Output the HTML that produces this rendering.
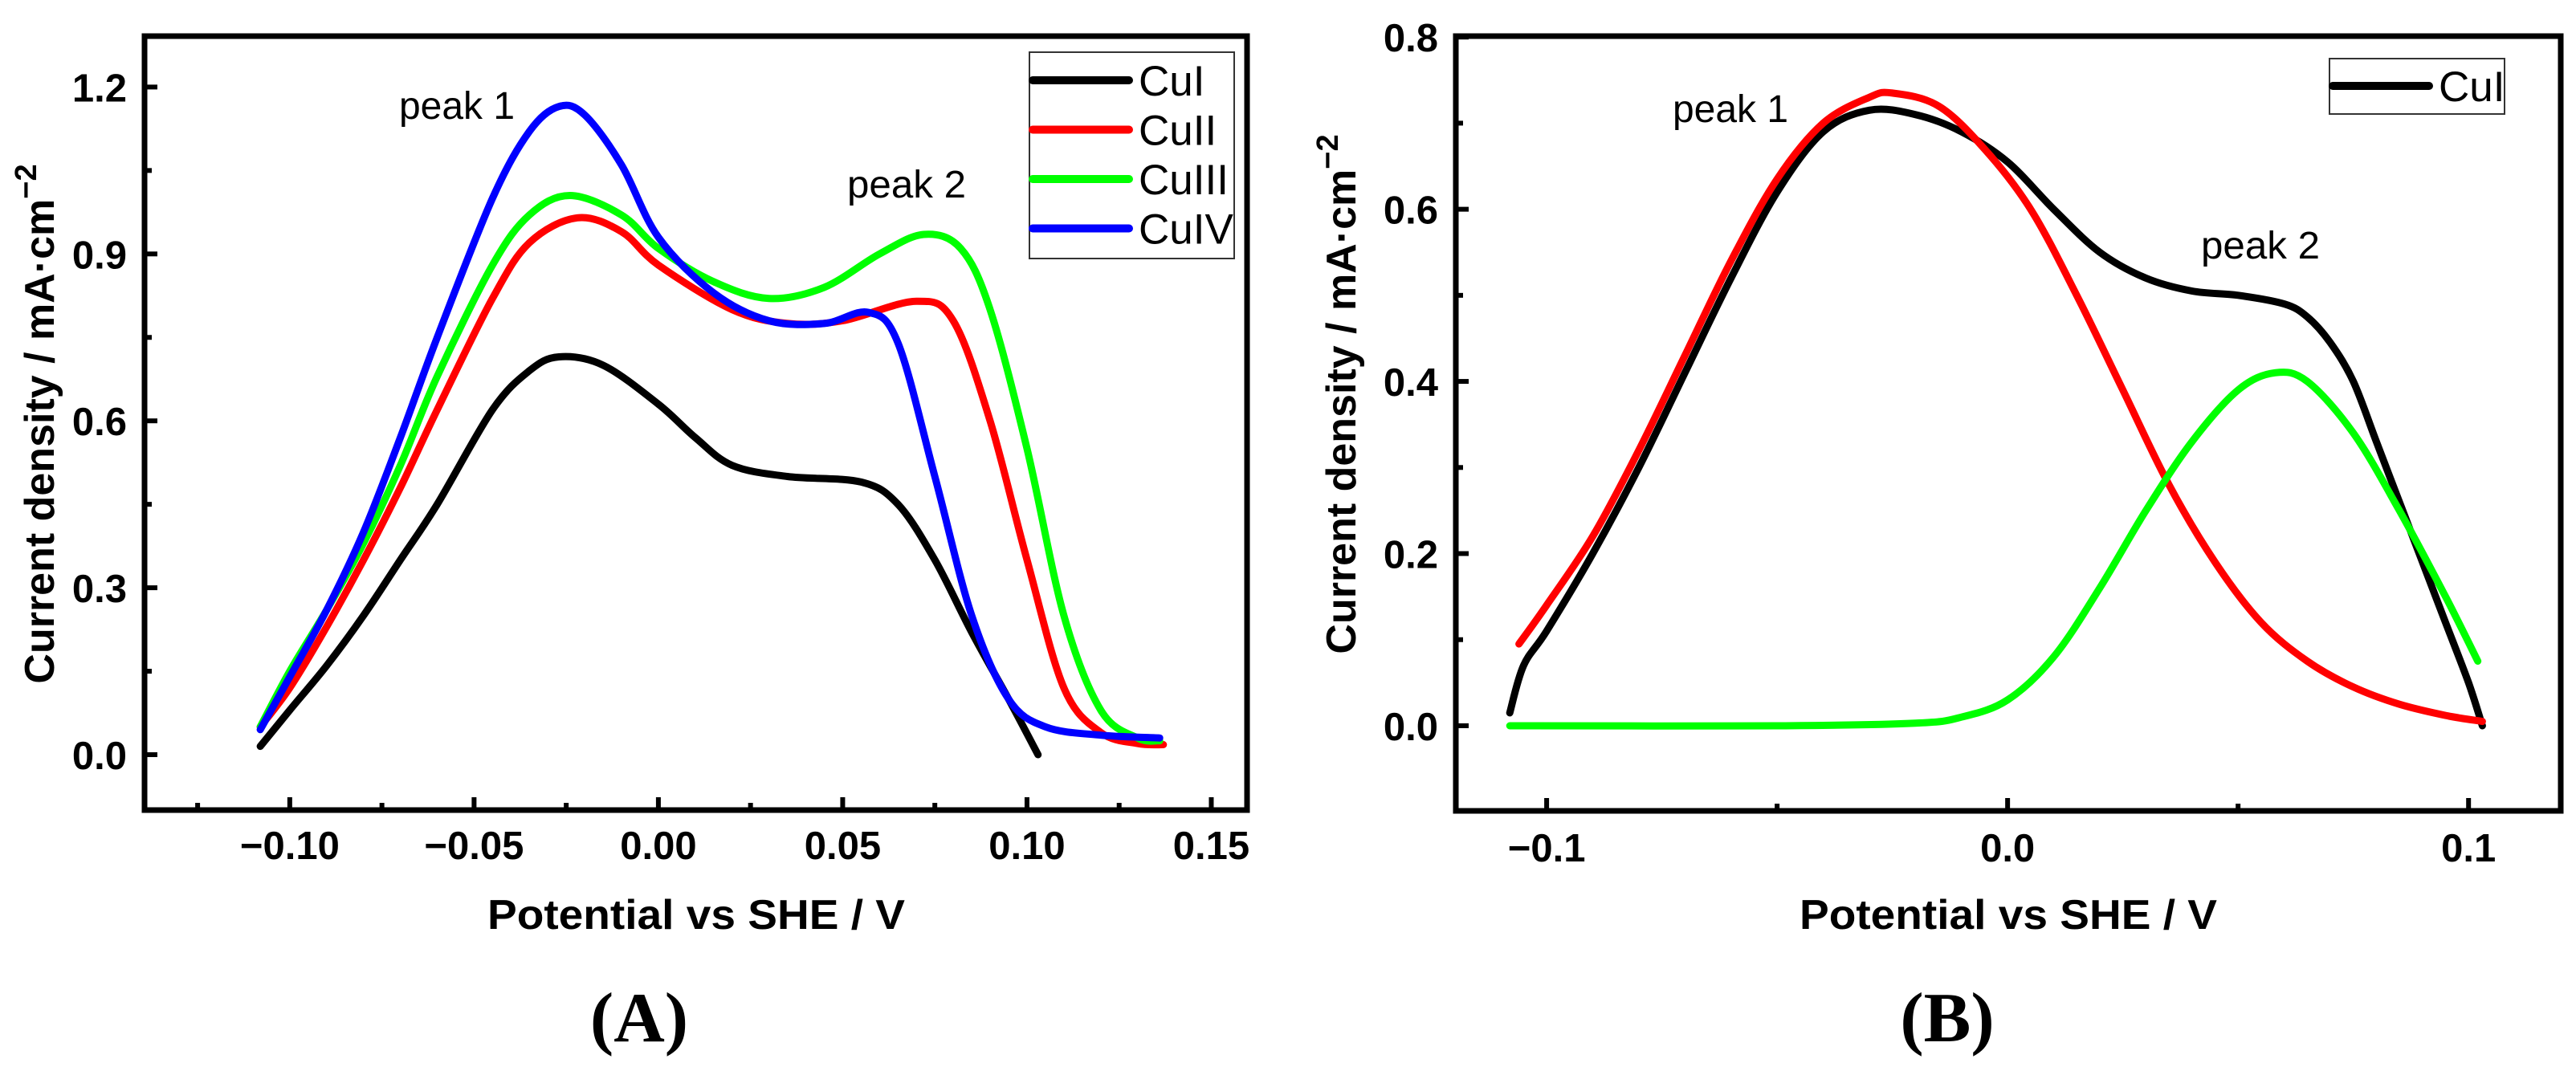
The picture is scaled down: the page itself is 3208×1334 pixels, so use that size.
<!DOCTYPE html>
<html><head><meta charset="utf-8">
<style>
html,body{margin:0;padding:0;background:#fff;}
svg{display:block;}
text{font-family:"Liberation Sans",Arial,sans-serif;}
</style></head>
<body>
<svg id="fig" width="3208" height="1334" viewBox="0 0 3208 1334" xmlns="http://www.w3.org/2000/svg">
<g id="panelA"></g>
<g id="panelB"></g>
<text x="796" y="1297" text-anchor="middle" font-size="88" font-weight="bold" style="font-family:'Liberation Serif',serif">(A)</text>
<text x="2425" y="1297" text-anchor="middle" font-size="88" font-weight="bold" style="font-family:'Liberation Serif',serif">(B)</text>
</svg>
<script>
// ---- Panel A data ----
const seriesNamesA = ["CuI","CuII","CuIII","CuIV"];
const colorsA = ["#000000","#ff0000","#00ff00","#0000ff"];
const cuI_x = [-0.108,-0.1,-0.09,-0.08,-0.07,-0.06,-0.045,-0.035,-0.027,-0.015,0,0.01,0.02,0.035,0.055,0.065,0.075,0.085,0.095,0.103];
const cuI_y = [0.015,0.08,0.16,0.25,0.35,0.45,0.62,0.69,0.715,0.70,0.63,0.57,0.52,0.50,0.49,0.45,0.35,0.22,0.10,0.0];
const cuII_x = [-0.108,-0.1,-0.09,-0.08,-0.07,-0.06,-0.045,-0.035,-0.022,-0.01,0,0.02,0.035,0.05,0.07,0.08,0.09,0.1,0.11,0.12,0.13,0.137];
const cuII_y = [0.05,0.12,0.23,0.35,0.48,0.62,0.82,0.92,0.965,0.94,0.88,0.80,0.775,0.78,0.815,0.78,0.60,0.35,0.12,0.04,0.02,0.018];
const cuIII_x = [-0.108,-0.1,-0.09,-0.08,-0.07,-0.06,-0.045,-0.035,-0.024,-0.01,0,0.015,0.03,0.045,0.06,0.072,0.082,0.09,0.1,0.11,0.12,0.13,0.136];
const cuIII_y = [0.05,0.15,0.26,0.38,0.52,0.68,0.88,0.97,1.005,0.97,0.91,0.85,0.82,0.84,0.90,0.935,0.91,0.80,0.55,0.25,0.08,0.03,0.025];
const cuIV_x = [-0.108,-0.1,-0.09,-0.08,-0.07,-0.06,-0.045,-0.035,-0.027,-0.02,-0.01,0,0.015,0.03,0.045,0.057,0.065,0.075,0.085,0.095,0.105,0.12,0.136];
const cuIV_y = [0.045,0.14,0.26,0.40,0.57,0.75,1.0,1.12,1.165,1.15,1.06,0.93,0.83,0.78,0.775,0.795,0.74,0.50,0.25,0.10,0.05,0.035,0.03];
const xTicksA = [-0.10,-0.05,0.00,0.05,0.10,0.15];
const xTickLabelsA = ["\u22120.10","\u22120.05","0.00","0.05","0.10","0.15"];
const yTicksA = [0.0,0.3,0.6,0.9,1.2];
const yTickLabelsA = ["0.0","0.3","0.6","0.9","1.2"];

// ---- Panel B data ----
const seriesNamesB = ["CuI","peak-1-fit","peak-2-fit"];
const colorsB = ["#000000","#ff0000","#00ff00"];
const bBlack_x = [-0.108,-0.105,-0.1,-0.09,-0.08,-0.07,-0.06,-0.05,-0.04,-0.03,-0.02,-0.01,0,0.01,0.02,0.03,0.04,0.05,0.06,0.065,0.07,0.075,0.08,0.085,0.09,0.095,0.1,0.103];
const bBlack_y = [0.015,0.07,0.11,0.20,0.30,0.41,0.52,0.62,0.69,0.715,0.71,0.69,0.655,0.60,0.55,0.52,0.505,0.50,0.49,0.475,0.445,0.40,0.33,0.26,0.19,0.12,0.05,0.0];
const bRed_x = [-0.106,-0.1,-0.09,-0.08,-0.07,-0.06,-0.05,-0.04,-0.03,-0.025,-0.015,-0.005,0.005,0.015,0.025,0.035,0.045,0.055,0.065,0.075,0.085,0.095,0.103];
const bRed_y = [0.095,0.14,0.22,0.32,0.43,0.54,0.635,0.70,0.73,0.735,0.72,0.67,0.60,0.50,0.39,0.28,0.19,0.12,0.075,0.045,0.025,0.012,0.005];
const bGreen_x = [-0.108,-0.05,-0.02,-0.01,0,0.01,0.02,0.03,0.04,0.05,0.058,0.065,0.075,0.085,0.095,0.102];
const bGreen_y = [0,0,0.003,0.01,0.03,0.08,0.16,0.25,0.33,0.39,0.41,0.40,0.34,0.25,0.15,0.075];
const xTicksB = [-0.1,0.0,0.1];
const xTickLabelsB = ["\u22120.1","0.0","0.1"];
const yTicksB = [0.0,0.2,0.4,0.6,0.8];
const yTickLabelsB = ["0.0","0.2","0.4","0.6","0.8"];

const NS = "http://www.w3.org/2000/svg";
function mk(parent, tag, attrs, txt){
  const e = document.createElementNS(NS, tag);
  for (const k in attrs) e.setAttribute(k, attrs[k]);
  if (txt !== undefined) e.textContent = txt;
  parent.appendChild(e);
  return e;
}
function smoothPath(pts){
  let d = "M" + pts[0][0].toFixed(1) + "," + pts[0][1].toFixed(1);
  for (let i = 0; i < pts.length - 1; i++){
    const p0 = pts[Math.max(0,i-1)], p1 = pts[i], p2 = pts[i+1], p3 = pts[Math.min(pts.length-1,i+2)];
    const c1x = p1[0] + (p2[0]-p0[0])/6, c1y = p1[1] + (p2[1]-p0[1])/6;
    const c2x = p2[0] - (p3[0]-p1[0])/6, c2y = p2[1] - (p3[1]-p1[1])/6;
    d += " C" + c1x.toFixed(1)+","+c1y.toFixed(1)+" "+c2x.toFixed(1)+","+c2y.toFixed(1)+" "+p2[0].toFixed(1)+","+p2[1].toFixed(1);
  }
  return d;
}

function drawPanel(g, cfg){
  const sx = v => cfg.L + (v - cfg.xmin) / (cfg.xmax - cfg.xmin) * (cfg.R - cfg.L);
  const sy = v => cfg.B - (v - cfg.ymin) / (cfg.ymax - cfg.ymin) * (cfg.B - cfg.T);
  cfg.series.forEach((s, i) => {
    const pts = s.x.map((xv, j) => [sx(xv), sy(s.y[j])]);
    const p = mk(g, "path", {d: smoothPath(pts), fill: "none", stroke: s.color, "stroke-width": 9, "stroke-linecap": "round", "stroke-linejoin": "round"});
    
    
  });
  const fr = mk(g, "rect", {x: cfg.L, y: cfg.T, width: cfg.R - cfg.L, height: cfg.B - cfg.T, fill: "none", stroke: "#000", "stroke-width": 7});
  
  
  cfg.xTicks.forEach((v, i) => {
    const x = sx(v);
    const t = mk(g, "line", {x1: x, x2: x, y1: cfg.B, y2: cfg.B - 16, stroke: "#000", "stroke-width": 6});
    
    
    const lb = mk(g, "text", {x: x, y: cfg.xLabelY, "text-anchor": "middle", "font-size": 49, "font-weight": "bold"}, cfg.xLabels[i]);
    
    
    if (i < cfg.xTicks.length - 1) {
      const mx = sx((v + cfg.xTicks[i+1]) / 2);
      const m = mk(g, "line", {x1: mx, x2: mx, y1: cfg.B, y2: cfg.B - 9, stroke: "#000", "stroke-width": 6});
      
      
    }
  });
  if (cfg.xMinorBefore !== undefined) {
    const mx = sx(cfg.xMinorBefore);
    const m = mk(g, "line", {x1: mx, x2: mx, y1: cfg.B, y2: cfg.B - 9, stroke: "#000", "stroke-width": 6});
    
    
  }
  cfg.yTicks.forEach((v, i) => {
    const y = sy(v);
    const t = mk(g, "line", {x1: cfg.L, x2: cfg.L + 16, y1: y, y2: y, stroke: "#000", "stroke-width": 6});
    
    
    const lb = mk(g, "text", {x: cfg.yLabelX, y: y + 18, "text-anchor": "end", "font-size": 49, "font-weight": "bold"}, cfg.yLabels[i]);
    
    
    if (i < cfg.yTicks.length - 1) {
      const my = sy((v + cfg.yTicks[i+1]) / 2);
      const m = mk(g, "line", {x1: cfg.L, x2: cfg.L + 9, y1: my, y2: my, stroke: "#000", "stroke-width": 6});
      
      
    }
  });
  const xt = mk(g, "text", {x: cfg.xTitleX, y: 1157, "text-anchor": "middle", "font-size": 52, "font-weight": "bold", textLength: 520, lengthAdjust: "spacingAndGlyphs"}, "Potential vs SHE / V");
  
  
  const yt = mk(g, "text", {x: 0, y: 0, "text-anchor": "middle", "font-size": 52, "font-weight": "bold", transform: "translate(" + cfg.yTitleX + "," + cfg.yTitleY + ") rotate(-90)"});
  
  
  yt.appendChild(document.createTextNode("Current density / mA\u00B7cm"));
  mk(yt, "tspan", {dy: -22, "font-size": 38}, "\u22122");
  cfg.peaks.forEach(pk => {
    const t = mk(g, "text", {x: pk[0], y: pk[1], "font-size": 48, textLength: pk[3], lengthAdjust: "spacingAndGlyphs"}, pk[2]);
    
    
  });
  const lg = mk(g, "g", {});
  
  
  const box = mk(lg, "rect", {x: cfg.leg.x, y: cfg.leg.y, width: cfg.leg.w, height: cfg.leg.h, fill: "#fff", stroke: "#333", "stroke-width": 2});
  
  
  cfg.leg.entries.forEach((en, i) => {
    const y = cfg.leg.y0 + i * 61.5;
    const ln = mk(lg, "line", {x1: cfg.leg.x + 4, x2: cfg.leg.x + 124, y1: y, y2: y, stroke: en[1], "stroke-width": 10, "stroke-linecap": "round"});
    
    
    const tx = mk(lg, "text", {x: cfg.leg.x + 136, y: y + 19, "font-size": 53}, en[0]);
    
    
  });
}

drawPanel(document.getElementById("panelA"), {
  L: 180, R: 1553, T: 45, B: 1009,
  xmin: -0.1394, xmax: 0.1597, ymin: -0.0996, ymax: 1.2915,
  xTicks: xTicksA, xLabels: xTickLabelsA, yTicks: yTicksA, yLabels: yTickLabelsA,
  xMinorBefore: -0.125, xLabelY: 1070, yLabelX: 158,
  xTitleX: 867, yTitleX: 67, yTitleY: 528,
  series: [
    {name: seriesNamesA[0], color: colorsA[0], x: cuI_x, y: cuI_y},
    {name: seriesNamesA[1], color: colorsA[1], x: cuII_x, y: cuII_y},
    {name: seriesNamesA[2], color: colorsA[2], x: cuIII_x, y: cuIII_y},
    {name: seriesNamesA[3], color: colorsA[3], x: cuIV_x, y: cuIV_y}
  ],
  peaks: [[497, 148, "peak 1", 144], [1055, 246, "peak 2", 148]],
  leg: {x: 1282, y: 65, w: 255, h: 257, y0: 100, entries: seriesNamesA.map((n, i) => [n, colorsA[i]])}
});

drawPanel(document.getElementById("panelB"), {
  L: 1813, R: 3189, T: 45, B: 1010,
  xmin: -0.1197, xmax: 0.12, ymin: -0.0989, ymax: 0.8011,
  xTicks: xTicksB, xLabels: xTickLabelsB, yTicks: yTicksB, yLabels: yTickLabelsB,
  xLabelY: 1073, yLabelX: 1791,
  xTitleX: 2501, yTitleX: 1688, yTitleY: 491,
  series: [
    {name: seriesNamesB[0], color: colorsB[0], x: bBlack_x, y: bBlack_y},
    {name: seriesNamesB[1], color: colorsB[1], x: bRed_x, y: bRed_y},
    {name: seriesNamesB[2], color: colorsB[2], x: bGreen_x, y: bGreen_y}
  ],
  peaks: [[2083, 152, "peak 1", 144], [2741, 322, "peak 2", 148]],
  leg: {x: 2901, y: 73, w: 218, h: 69, y0: 107, entries: [["CuI", "#000000"]]}
});
</script>
</body></html>
